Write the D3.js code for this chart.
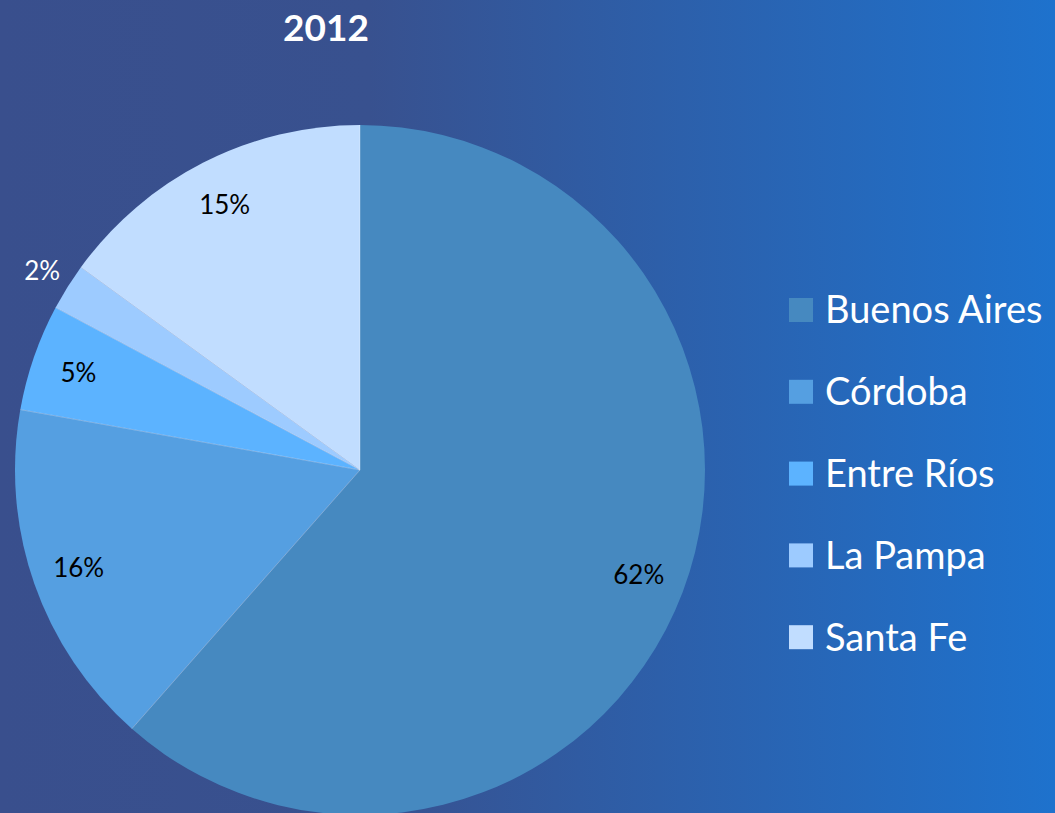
<!DOCTYPE html>
<html>
<head>
<meta charset="utf-8">
<script src="https://cdn.jsdelivr.net/npm/d3@7"></script>
<style>
  html, body { margin: 0; padding: 0; }
  body { width: 1055px; height: 813px; overflow: hidden; }
  text { font-family: Lato, "Open Sans", sans-serif; }
</style>
</head>
<body>
<div id="chart"></div>
<script>
const title = '2012';
const provinces = ['Buenos Aires', 'Córdoba', 'Entre Ríos', 'La Pampa', 'Santa Fe'];
const shares = [61.5, 16.3, 5.0, 2.2, 15.0];
const colors = ['#4689c0', '#559fe1', '#5cb3ff', '#9dcbff', '#c1ddff'];

const width = 1055;
const height = 813;
const cx = 360;
const cy = 470;
const radius = 345;

const svg = d3.select('#chart').append('svg')
    .attr('width', width)
    .attr('height', height);

// background gradient
const grad = svg.append('defs').append('linearGradient')
    .attr('id', 'bg')
    .attr('x1', '0%').attr('x2', '100%')
    .attr('y1', '0%').attr('y2', '0%');
grad.append('stop').attr('offset', '0%').attr('stop-color', '#394f8d');
grad.append('stop').attr('offset', '35%').attr('stop-color', '#38518f');
grad.append('stop').attr('offset', '100%').attr('stop-color', '#1e72cd');

svg.append('rect')
    .attr('width', width)
    .attr('height', height)
    .attr('fill', 'url(#bg)');

svg.append('text')
    .attr('x', 326)
    .attr('y', 41)
    .attr('text-anchor', 'middle')
    .attr('font-size', 37)
    .attr('font-weight', 'bold')
    .attr('fill', '#ffffff')
    .text(title);

const color = d3.scaleOrdinal().domain(provinces).range(colors);

const pie = d3.pie()
    .sort(null)
    .value((d, i) => shares[i]);

const arcs = pie(provinces);
const arc = d3.arc().innerRadius(0).outerRadius(radius);
const labelArc = d3.arc().innerRadius(298).outerRadius(298);
const outerLabelArc = d3.arc().innerRadius(375).outerRadius(375);

const g = svg.append('g').attr('transform', 'translate(' + cx + ',' + cy + ')');

g.selectAll('path')
    .data(arcs)
    .enter()
    .append('path')
    .attr('d', arc)
    .attr('fill', (d) => color(d.data));

// thin separators between slices
g.selectAll('.sep')
    .data(arcs)
    .enter()
    .append('line')
    .attr('class', 'sep')
    .attr('x1', 0)
    .attr('y1', 0)
    .attr('x2', (d) => radius * Math.sin(d.startAngle))
    .attr('y2', (d) => -radius * Math.cos(d.startAngle))
    .attr('stroke', 'rgba(255,255,255,0.3)')
    .attr('stroke-width', 1);

const total = d3.sum(shares);

g.selectAll('.pct')
    .data(arcs)
    .enter()
    .append('text')
    .attr('class', 'pct')
    .attr('transform', (d) => {
        const outside = d.value / total < 0.03;
        const c = (outside ? outerLabelArc : labelArc).centroid(d);
        return 'translate(' + c[0] + ',' + c[1] + ')';
    })
    .attr('text-anchor', 'middle')
    .attr('dy', '0.35em')
    .attr('font-size', 26)
    .attr('fill', (d) => (d.value / total < 0.03 ? '#ffffff' : '#000000'))
    .text((d) => Math.round(d.value / total * 100) + '%');

// legend
const legend = svg.append('g').attr('transform', 'translate(789,310)');
const rows = legend.selectAll('g')
    .data(provinces)
    .enter()
    .append('g')
    .attr('transform', (d, i) => 'translate(0,' + (i * 81.8) + ')');

rows.append('rect')
    .attr('x', 0)
    .attr('y', -12)
    .attr('width', 24)
    .attr('height', 24)
    .attr('fill', (d) => color(d));

rows.append('text')
    .attr('x', 36)
    .attr('dy', '0.35em')
    .attr('font-size', 38)
    .attr('fill', '#ffffff')
    .text((d) => d);
</script>
</body>
</html>
